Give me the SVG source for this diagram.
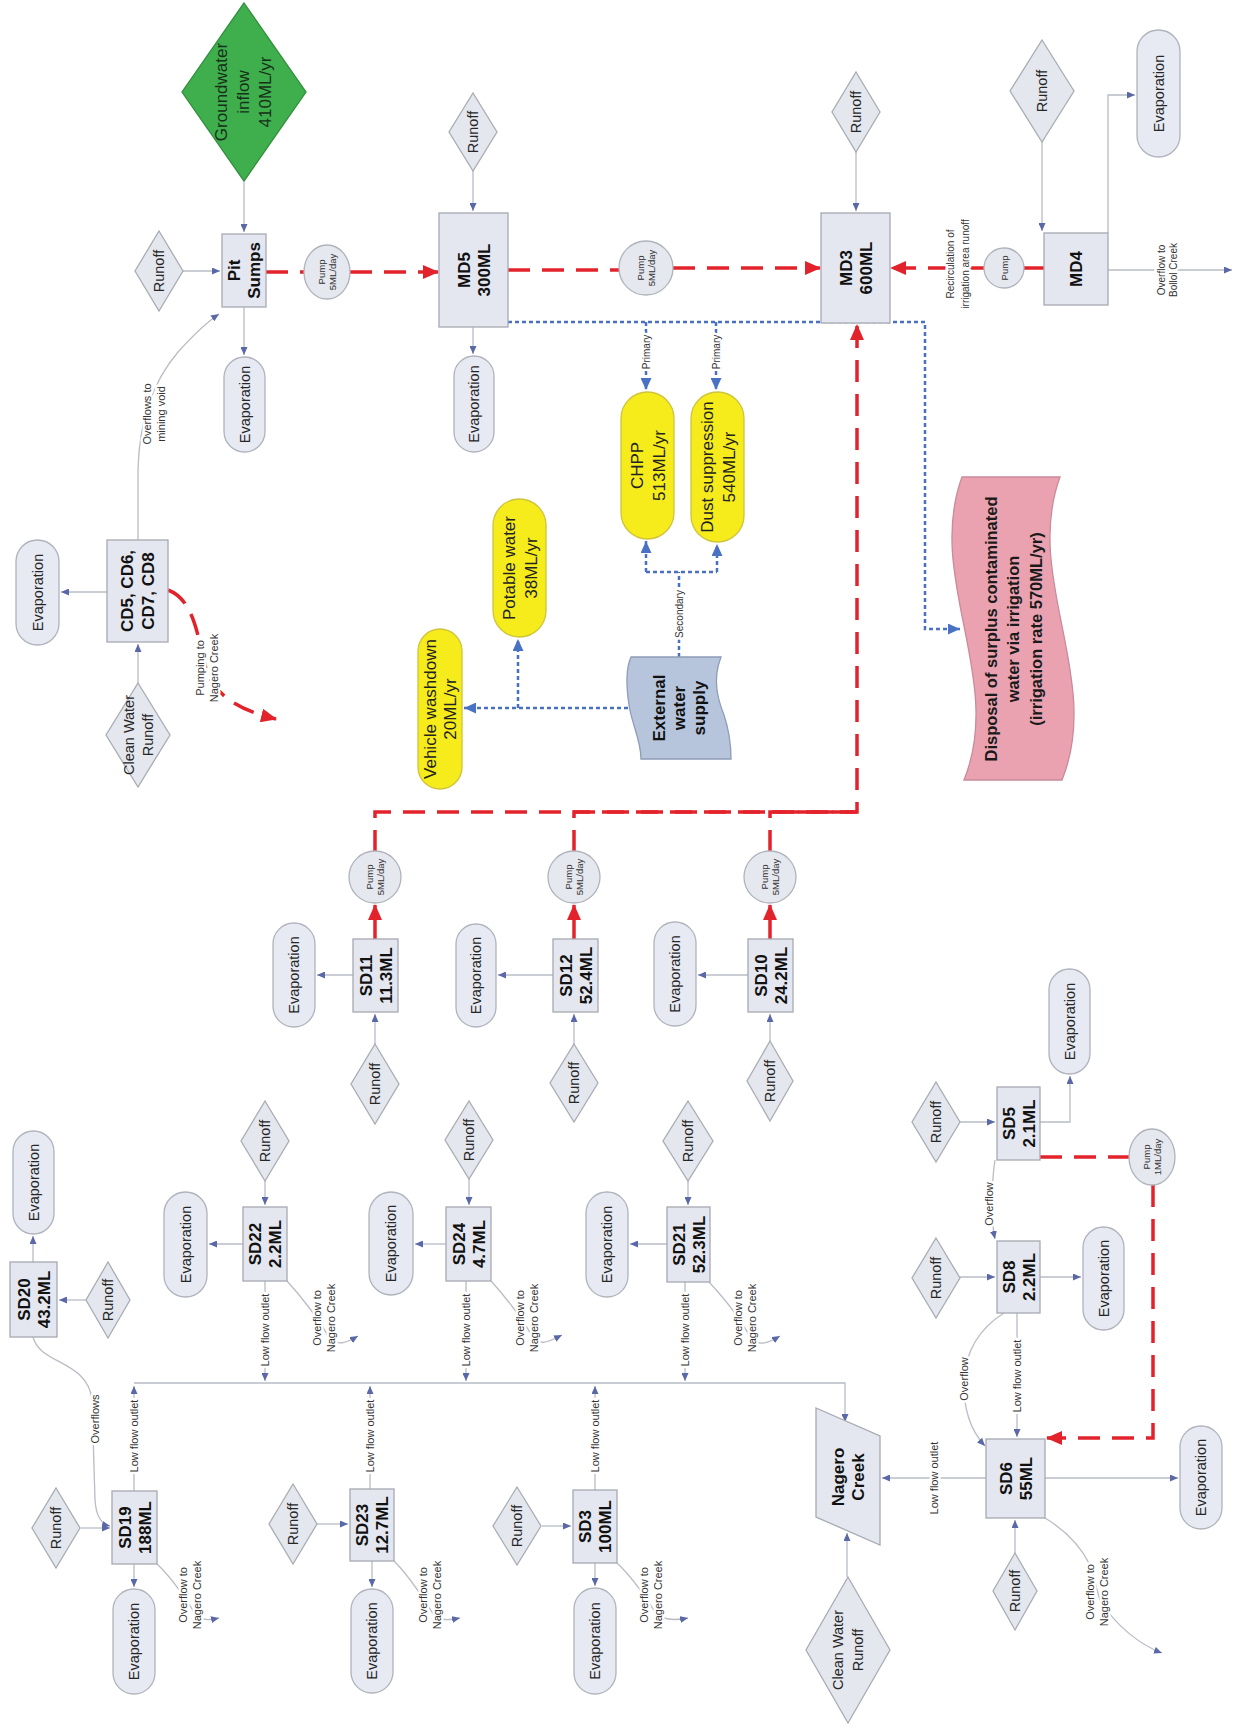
<svg xmlns="http://www.w3.org/2000/svg" width="1234" height="1728" viewBox="0 0 1234 1728">
<defs>
<style>
text{font-family:"Liberation Sans",Arial,sans-serif;fill:#262626;text-anchor:middle}
.n{font-size:14.5px}
.b{font-size:17px;font-weight:bold;fill:#111}
.g{font-size:17px;fill:#17301a}
.y{font-size:17px;fill:#222}
.d{font-size:16.5px;font-weight:bold;fill:#1a1a1a}
.l{font-size:11px;fill:#333;stroke:#fff;stroke-width:5;paint-order:stroke;stroke-linejoin:round}
.s{font-size:10px;fill:#333;stroke:#fff;stroke-width:5;paint-order:stroke;stroke-linejoin:round}
.p{font-size:9.5px;fill:#333}
.box{fill:#e4e7ef;stroke:#a6a9b2;stroke-width:1.3}
.dia{fill:#e4e7ee;stroke:#aaacb4;stroke-width:1.3}
.ev{fill:#e7eaf2;stroke:#b0b3bc;stroke-width:1.3}
.pump{fill:#e6e8ef;stroke:#b0b3bc;stroke-width:1.3}
.yl{fill:#f6ec1c;stroke:#cfc43a;stroke-width:1.3}
.c{fill:none;stroke:#b9bcc6;stroke-width:1.3;marker-end:url(#ag)}
.cn{fill:none;stroke:#b9bcc6;stroke-width:1.3}
.rd{fill:none;stroke:#e3232c;stroke-width:3.5;stroke-dasharray:22 12}
.rs{fill:none;stroke:#e3232c;stroke-width:3.5}
.bd{fill:none;stroke:#4a70c0;stroke-width:2.5;stroke-dasharray:4 3}
</style>
<marker id="ag" markerUnits="userSpaceOnUse" markerWidth="8" markerHeight="7" refX="8" refY="3.5" orient="auto"><path d="M0,0 L8,3.5 L0,7 z" fill="#5a68a8"/></marker>
<marker id="ar" markerUnits="userSpaceOnUse" markerWidth="16" markerHeight="14" refX="15" refY="7" orient="auto"><path d="M0,0 L16,7 L0,14 z" fill="#e3232c"/></marker>
<marker id="ab" markerUnits="userSpaceOnUse" markerWidth="12" markerHeight="11" refX="12" refY="5.5" orient="auto"><path d="M0,0 L12,5.5 L0,11 z" fill="#4a72c4"/></marker>
</defs>
<rect width="1234" height="1728" fill="#fff"/>

<g id="connectors">
<!-- gray flows -->
<path class="c" d="M244,182 V232"/>
<path class="c" d="M183,271 H220"/>
<path class="c" d="M244,307 V355"/>
<path class="c" d="M138,540 V470 C139,425 150,385 178,352 C198,330 210,320 219,314"/>
<path class="c" d="M473,171 V211"/>
<path class="c" d="M473,327 V354"/>
<path class="c" d="M856,152 V211"/>
<path class="c" d="M1042,142 V231"/>
<path class="c" d="M1108,233 V95 H1135"/>
<path class="c" d="M1108,270 H1232"/>
<path class="c" d="M107,592 H61"/>
<path class="c" d="M138,683 V644"/>
<path class="c" d="M375,1044 V1014"/>
<path class="c" d="M353,975 H317"/>
<path class="c" d="M574,1044 V1014"/>
<path class="c" d="M553,975 H498"/>
<path class="c" d="M770,1041 V1014"/>
<path class="c" d="M748,975 H698"/>
<path class="c" d="M265,1181 V1205"/>
<path class="c" d="M243,1244 H209"/>
<path class="c" d="M265,1281 V1381"/>
<path class="c" d="M287,1281 C300,1295 318,1318 328,1336 C336,1348 348,1342 358,1336"/>
<path class="c" d="M469,1179 V1205"/>
<path class="c" d="M446,1244 H415"/>
<path class="c" d="M466,1281 V1381"/>
<path class="c" d="M491,1281 C504,1295 522,1318 532,1336 C540,1348 552,1340 562,1335"/>
<path class="c" d="M688,1181 V1205"/>
<path class="c" d="M667,1244 H630"/>
<path class="c" d="M685,1282 V1381"/>
<path class="c" d="M709,1282 C722,1296 740,1318 750,1337 C758,1348 770,1342 780,1336"/>
<path class="c" d="M33,1262 V1236"/>
<path class="c" d="M86,1300 H59"/>
<path class="c" d="M33,1337 C40,1365 88,1360 92,1400 L95,1500 C96,1515 100,1524 110,1526"/>
<path class="c" d="M81,1528 H110"/>
<path class="c" d="M134,1564 V1587"/>
<path class="c" d="M134,1491 V1386"/>
<path class="c" d="M157,1564 C172,1578 184,1596 194,1612 C202,1622 210,1620 219,1618"/>
<path class="c" d="M317,1524 H348"/>
<path class="c" d="M372,1561 V1587"/>
<path class="c" d="M370,1489 V1386"/>
<path class="c" d="M394,1561 C410,1577 422,1596 432,1612 C440,1622 450,1620 460,1618"/>
<path class="c" d="M542,1526 H571"/>
<path class="c" d="M595,1563 V1586"/>
<path class="c" d="M595,1490 V1386"/>
<path class="c" d="M617,1563 C633,1578 645,1596 655,1612 C663,1622 678,1620 688,1618"/>
<path class="c" d="M134,1383 H845 V1422"/>
<path class="c" d="M960,1122 H995"/>
<path class="c" d="M1040,1122 H1070 V1076"/>
<path class="c" d="M960,1277 H995"/>
<path class="c" d="M1040,1277 H1081"/>
<path class="c" d="M995,1160 C992,1180 990,1215 995,1239"/>
<path class="c" d="M1017,1313 V1437"/>
<path class="c" d="M1004,1313 C985,1325 966,1345 964,1380 C963,1410 972,1432 985,1446"/>
<path class="c" d="M1015,1553 V1520"/>
<path class="c" d="M1045,1478 H1178"/>
<path class="c" d="M986,1478 H882"/>
<path class="c" d="M1045,1518 C1065,1530 1080,1545 1090,1565 L1100,1600 C1115,1625 1140,1645 1162,1653"/>
<path class="c" d="M847,1577 V1533"/>

<!-- blue dotted external / primary -->
<path class="bd" d="M508,322 H925 V629 H960" marker-end="url(#ab)"/>
<path class="bd" d="M646,322 V390" marker-end="url(#ab)"/>
<path class="bd" d="M716,322 V390" marker-end="url(#ab)"/>
<path class="bd" d="M628,708 H464" marker-end="url(#ab)"/>
<path class="bd" d="M518,708 V639" marker-end="url(#ab)"/>
<path class="bd" d="M679,657 V572 M646,572 H717"/>
<path class="bd" d="M646,572 V541" marker-end="url(#ab)"/>
<path class="bd" d="M717,572 V544" marker-end="url(#ab)"/>

<!-- red pumping -->
<path class="rd" d="M266,272 H304"/>
<path class="rd" d="M350,272 H438" marker-end="url(#ar)"/>
<path class="rd" d="M508,270 H619"/>
<path class="rd" d="M673,268 H820" marker-end="url(#ar)"/>
<path class="rs" d="M1044,268 H1024"/>
<path class="rd" d="M984,268 H891" marker-end="url(#ar)"/>
<path class="rd" d="M770,852 V812 H857"/>
<path class="rd" d="M574,852 V812 H857"/>
<path class="rd" d="M375,852 V812 H857 V325" marker-end="url(#ar)"/>
<path class="rs" d="M375,939 V905" marker-end="url(#ar)"/>
<path class="rs" d="M574,939 V905" marker-end="url(#ar)"/>
<path class="rs" d="M770,939 V905" marker-end="url(#ar)"/>
<path class="rd" d="M168,590 C195,600 198,640 205,665 C212,690 230,708 276,719" marker-end="url(#ar)"/>
<path class="rd" d="M1040,1157 H1129"/>
<path class="rd" d="M1153,1185 V1438 H1047" marker-end="url(#ar)"/>

<!-- connector labels -->
<text class="l" transform="translate(154 414) rotate(-90)"><tspan x="0" y="-3">Overflows to</tspan><tspan x="0" y="11">mining void</tspan></text>
<text class="l" transform="translate(207 668) rotate(-90)"><tspan x="0" y="-3">Pumping to</tspan><tspan x="0" y="11">Nagero Creek</tspan></text>
<text class="s" transform="translate(958 264) rotate(-90)"><tspan x="0" y="-4">Recirculation of</tspan><tspan x="0" y="11">irrigation area runoff</tspan></text>
<text class="s" transform="translate(1167 270) rotate(-90)"><tspan x="0" y="-2.5">Overflow to</tspan><tspan x="0" y="9.5">Bollol Creek</tspan></text>
<text class="s" transform="translate(646 352) rotate(-90)" y="3.5">Primary</text>
<text class="s" transform="translate(716 352) rotate(-90)" y="3.5">Primary</text>
<text class="s" transform="translate(679 614) rotate(-90)" y="3.5">Secondary</text>
<text class="l" transform="translate(265 1330) rotate(-90)" y="4">Low flow outlet</text>
<text class="l" transform="translate(466 1330) rotate(-90)" y="4">Low flow outlet</text>
<text class="l" transform="translate(685 1330) rotate(-90)" y="4">Low flow outlet</text>
<text class="l" transform="translate(134 1436) rotate(-90)" y="4">Low flow outlet</text>
<text class="l" transform="translate(370 1436) rotate(-90)" y="4">Low flow outlet</text>
<text class="l" transform="translate(595 1436) rotate(-90)" y="4">Low flow outlet</text>
<text class="l" transform="translate(1017 1376) rotate(-90)" y="4">Low flow outlet</text>
<text class="l" transform="translate(934 1478) rotate(-90)" y="4">Low flow outlet</text>
<text class="l" transform="translate(324 1318) rotate(-90)"><tspan x="0" y="-3">Overflow to</tspan><tspan x="0" y="11">Nagero Creek</tspan></text>
<text class="l" transform="translate(527 1318) rotate(-90)"><tspan x="0" y="-3">Overflow to</tspan><tspan x="0" y="11">Nagero Creek</tspan></text>
<text class="l" transform="translate(745 1318) rotate(-90)"><tspan x="0" y="-3">Overflow to</tspan><tspan x="0" y="11">Nagero Creek</tspan></text>
<text class="l" transform="translate(190 1595) rotate(-90)"><tspan x="0" y="-3">Overflow to</tspan><tspan x="0" y="11">Nagero Creek</tspan></text>
<text class="l" transform="translate(430 1595) rotate(-90)"><tspan x="0" y="-3">Overflow to</tspan><tspan x="0" y="11">Nagero Creek</tspan></text>
<text class="l" transform="translate(651 1595) rotate(-90)"><tspan x="0" y="-3">Overflow to</tspan><tspan x="0" y="11">Nagero Creek</tspan></text>
<text class="l" transform="translate(1097 1592) rotate(-90)"><tspan x="0" y="-3">Overflow to</tspan><tspan x="0" y="11">Nagero Creek</tspan></text>
<text class="l" transform="translate(95 1419) rotate(-90)" y="4">Overflows</text>
<text class="l" transform="translate(989 1204) rotate(-90)" y="4">Overflow</text>
<text class="l" transform="translate(964 1379) rotate(-90)" y="4">Overflow</text>
</g>

<!-- ===== Top area ===== -->
<g id="groundwater">
<polygon points="244,3 306,92 244,181 182,92" fill="#3fae4c" stroke="#2f8f3b" stroke-width="1.3"/>
<text class="g" transform="translate(243 92) rotate(-90)"><tspan x="0" y="-16">Groundwater</tspan><tspan x="0" y="6">inflow</tspan><tspan x="0" y="28">410ML/yr</tspan></text>
</g>
<g id="runoff-pit"><polygon class="dia" points="159,231 183,271 159,311 135,271"/><text class="n" transform="translate(159 271) rotate(-90)" y="5">Runoff</text></g>
<g id="pit-sumps"><rect class="box" x="222" y="234" width="44" height="73"/><text class="b" transform="translate(244 270.5) rotate(-90)"><tspan x="0" y="-4">Pit</tspan><tspan x="0" y="16">Sumps</tspan></text></g>
<g id="evap-pit"><rect class="ev" x="224" y="357" width="41" height="95" rx="20.5"/><text class="n" transform="translate(244.5 404.5) rotate(-90)" y="5">Evaporation</text></g>
<g id="pump1"><ellipse class="pump" cx="327" cy="272" rx="23" ry="27"/><text class="p" transform="translate(327 272) rotate(-90)"><tspan x="0" y="-2">Pump</tspan><tspan x="0" y="9">5ML/day</tspan></text></g>

<g id="runoff-md5"><polygon class="dia" points="473,93 497,132 473,171 449,132"/><text class="n" transform="translate(473 132) rotate(-90)" y="5">Runoff</text></g>
<g id="md5"><rect class="box" x="439" y="213" width="69" height="114"/><text class="b" transform="translate(473.5 270) rotate(-90)"><tspan x="0" y="-4">MD5</tspan><tspan x="0" y="16">300ML</tspan></text></g>
<g id="evap-md5"><rect class="ev" x="454" y="356" width="40" height="96" rx="20"/><text class="n" transform="translate(474 404) rotate(-90)" y="5">Evaporation</text></g>
<g id="pump2"><ellipse class="pump" cx="646" cy="268" rx="27" ry="27"/><text class="p" transform="translate(646 268) rotate(-90)"><tspan x="0" y="-2">Pump</tspan><tspan x="0" y="9">5ML/day</tspan></text></g>

<g id="runoff-md3"><polygon class="dia" points="856,72 880,112 856,152 832,112"/><text class="n" transform="translate(856 112) rotate(-90)" y="5">Runoff</text></g>
<g id="md3"><rect class="box" x="821" y="213" width="69" height="110"/><text class="b" transform="translate(855.5 268) rotate(-90)"><tspan x="0" y="-4">MD3</tspan><tspan x="0" y="16">600ML</tspan></text></g>
<g id="pump3"><circle class="pump" cx="1004" cy="268" r="20"/><text class="p" transform="translate(1004 268) rotate(-90)" y="3.5">Pump</text></g>
<g id="runoff-md4"><polygon class="dia" points="1042,40 1074,91 1042,142 1010,91"/><text class="n" transform="translate(1042 91) rotate(-90)" y="5">Runoff</text></g>
<g id="md4"><rect class="box" x="1044" y="233" width="64" height="72"/><text class="b" transform="translate(1076 269) rotate(-90)" y="6">MD4</text></g>
<g id="evap-md4"><rect class="ev" x="1137" y="30" width="43" height="127" rx="21.5"/><text class="n" transform="translate(1158.5 93.5) rotate(-90)" y="5">Evaporation</text></g>

<g id="cd5"><rect class="box" x="107" y="540" width="61" height="102"/><text class="b" transform="translate(137.5 591) rotate(-90)"><tspan x="0" y="-4.5">CD5, CD6,</tspan><tspan x="0" y="16.5">CD7, CD8</tspan></text></g>
<g id="evap-cd5"><rect class="ev" x="16" y="540" width="43" height="105" rx="21.5"/><text class="n" transform="translate(37.5 592.5) rotate(-90)" y="5">Evaporation</text></g>
<g id="clean-runoff-cd"><polygon class="dia" points="138,683 170,735 138,787 106,735"/><text class="n" transform="translate(138 735) rotate(-90)"><tspan x="0" y="-4.5">Clean Water</tspan><tspan x="0" y="14.5">Runoff</tspan></text></g>

<g id="chpp"><rect class="yl" x="621" y="392" width="53" height="147" rx="26.5"/><text class="y" transform="translate(647.5 465.5) rotate(-90)"><tspan x="0" y="-5">CHPP</tspan><tspan x="0" y="17">513ML/yr</tspan></text></g>
<g id="dust"><rect class="yl" x="691" y="392" width="53" height="150" rx="26.5"/><text class="y" transform="translate(717.5 467) rotate(-90)"><tspan x="0" y="-5">Dust suppression</tspan><tspan x="0" y="17">540ML/yr</tspan></text></g>
<g id="potable"><rect class="yl" x="493" y="499" width="53" height="138" rx="26.5"/><text class="y" transform="translate(519.5 568) rotate(-90)"><tspan x="0" y="-5">Potable water</tspan><tspan x="0" y="17">38ML/yr</tspan></text></g>
<g id="vehicle"><rect class="yl" x="418" y="629" width="44" height="160" rx="22"/><text class="y" transform="translate(440 709) rotate(-90)"><tspan x="0" y="-4">Vehicle washdown</tspan><tspan x="0" y="16">20ML/yr</tspan></text></g>
<g id="external"><path d="M631,657 L721,657 C712,680 718,700 724,715 C729,730 731,745 731,759 L641,759 C641,740 632,725 629,705 C626,685 626,668 631,657 Z" fill="#b7c5dc" stroke="#8e9cb8" stroke-width="1.3"/><text class="b" transform="translate(679 708) rotate(-90)"><tspan x="0" y="-14">External</tspan><tspan x="0" y="6">water</tspan><tspan x="0" y="26">supply</tspan></text></g>
<g id="disposal"><path d="M962,477 L1060,477 C1023,578 1103,679 1062,780 L964,780 C1005,679 925,578 962,477 Z" fill="#eaa2b1" stroke="#c98b99" stroke-width="1.3"/><text class="d" transform="translate(1013 629) rotate(-90)"><tspan x="0" y="-16.5">Disposal of surplus contaminated</tspan><tspan x="0" y="6">water via irrigation</tspan><tspan x="0" y="28.5">(irrigation rate 570ML/yr)</tspan></text></g>

<!-- SD11/12/10 -->
<g id="pump-sd11"><circle class="pump" cx="375" cy="877" r="26"/><text class="p" transform="translate(375 877) rotate(-90)"><tspan x="0" y="-2">Pump</tspan><tspan x="0" y="9">5ML/day</tspan></text></g>
<g id="sd11"><rect class="box" x="353" y="939" width="45" height="73"/><text class="b" transform="translate(375.5 975.5) rotate(-90)"><tspan x="0" y="-4">SD11</tspan><tspan x="0" y="16">11.3ML</tspan></text></g>
<g id="evap-sd11"><rect class="ev" x="273" y="923" width="42" height="104" rx="21"/><text class="n" transform="translate(294 975) rotate(-90)" y="5">Evaporation</text></g>
<g id="runoff-sd11"><polygon class="dia" points="375,1044 399,1084 375,1124 351,1084"/><text class="n" transform="translate(375 1084) rotate(-90)" y="5">Runoff</text></g>

<g id="pump-sd12"><circle class="pump" cx="574" cy="877" r="26"/><text class="p" transform="translate(574 877) rotate(-90)"><tspan x="0" y="-2">Pump</tspan><tspan x="0" y="9">5ML/day</tspan></text></g>
<g id="sd12"><rect class="box" x="553" y="939" width="45" height="73"/><text class="b" transform="translate(575.5 975.5) rotate(-90)"><tspan x="0" y="-4">SD12</tspan><tspan x="0" y="16">52.4ML</tspan></text></g>
<g id="evap-sd12"><rect class="ev" x="456" y="924" width="40" height="103" rx="20"/><text class="n" transform="translate(476 975.5) rotate(-90)" y="5">Evaporation</text></g>
<g id="runoff-sd12"><polygon class="dia" points="574,1044 598,1083 574,1122 550,1083"/><text class="n" transform="translate(574 1083) rotate(-90)" y="5">Runoff</text></g>

<g id="pump-sd10"><circle class="pump" cx="770" cy="877" r="26"/><text class="p" transform="translate(770 877) rotate(-90)"><tspan x="0" y="-2">Pump</tspan><tspan x="0" y="9">5ML/day</tspan></text></g>
<g id="sd10"><rect class="box" x="748" y="939" width="45" height="73"/><text class="b" transform="translate(770.5 975.5) rotate(-90)"><tspan x="0" y="-4">SD10</tspan><tspan x="0" y="16">24.2ML</tspan></text></g>
<g id="evap-sd10"><rect class="ev" x="654" y="922" width="42" height="104" rx="21"/><text class="n" transform="translate(675 974) rotate(-90)" y="5">Evaporation</text></g>
<g id="runoff-sd10"><polygon class="dia" points="770,1041 793,1081 770,1121 747,1081"/><text class="n" transform="translate(770 1081) rotate(-90)" y="5">Runoff</text></g>

<!-- SD22/24/21 -->
<g id="runoff-sd22"><polygon class="dia" points="265,1101 289,1141 265,1181 241,1141"/><text class="n" transform="translate(265 1141) rotate(-90)" y="5">Runoff</text></g>
<g id="sd22"><rect class="box" x="243" y="1207" width="44" height="74"/><text class="b" transform="translate(265 1244) rotate(-90)"><tspan x="0" y="-4">SD22</tspan><tspan x="0" y="16">2.2ML</tspan></text></g>
<g id="evap-sd22"><rect class="ev" x="164" y="1192" width="43" height="105" rx="21.5"/><text class="n" transform="translate(185.5 1244.5) rotate(-90)" y="5">Evaporation</text></g>

<g id="runoff-sd24"><polygon class="dia" points="469,1101 493,1140 469,1179 445,1140"/><text class="n" transform="translate(469 1140) rotate(-90)" y="5">Runoff</text></g>
<g id="sd24"><rect class="box" x="446" y="1207" width="45" height="74"/><text class="b" transform="translate(468.5 1244) rotate(-90)"><tspan x="0" y="-4">SD24</tspan><tspan x="0" y="16">4.7ML</tspan></text></g>
<g id="evap-sd24"><rect class="ev" x="369" y="1192" width="44" height="103" rx="22"/><text class="n" transform="translate(391 1243.5) rotate(-90)" y="5">Evaporation</text></g>

<g id="runoff-sd21"><polygon class="dia" points="688,1101 713,1141 688,1181 663,1141"/><text class="n" transform="translate(688 1141) rotate(-90)" y="5">Runoff</text></g>
<g id="sd21"><rect class="box" x="667" y="1207" width="43" height="75"/><text class="b" transform="translate(688.5 1244.5) rotate(-90)"><tspan x="0" y="-4">SD21</tspan><tspan x="0" y="16">52.3ML</tspan></text></g>
<g id="evap-sd21"><rect class="ev" x="586" y="1192" width="42" height="105" rx="21"/><text class="n" transform="translate(607 1244.5) rotate(-90)" y="5">Evaporation</text></g>

<!-- SD20 / SD19 / SD23 / SD3 -->
<g id="evap-sd20"><rect class="ev" x="13" y="1131" width="41" height="103" rx="20.5"/><text class="n" transform="translate(33.5 1182.5) rotate(-90)" y="5">Evaporation</text></g>
<g id="sd20"><rect class="box" x="10" y="1262" width="47" height="75"/><text class="b" transform="translate(33.5 1299.5) rotate(-90)"><tspan x="0" y="-4">SD20</tspan><tspan x="0" y="16">43.2ML</tspan></text></g>
<g id="runoff-sd20"><polygon class="dia" points="108,1262 130,1300 108,1338 86,1300"/><text class="n" transform="translate(108 1300) rotate(-90)" y="5">Runoff</text></g>

<g id="runoff-sd19"><polygon class="dia" points="56,1488 80,1528 56,1568 32,1528"/><text class="n" transform="translate(56 1528) rotate(-90)" y="5">Runoff</text></g>
<g id="sd19"><rect class="box" x="112" y="1491" width="45" height="73"/><text class="b" transform="translate(134.5 1527.5) rotate(-90)"><tspan x="0" y="-4">SD19</tspan><tspan x="0" y="16">188ML</tspan></text></g>
<g id="evap-sd19"><rect class="ev" x="113" y="1589" width="42" height="105" rx="21"/><text class="n" transform="translate(134 1641.5) rotate(-90)" y="5">Evaporation</text></g>

<g id="runoff-sd23"><polygon class="dia" points="293,1484 317,1524 293,1564 269,1524"/><text class="n" transform="translate(293 1524) rotate(-90)" y="5">Runoff</text></g>
<g id="sd23"><rect class="box" x="350" y="1489" width="44" height="72"/><text class="b" transform="translate(372 1525) rotate(-90)"><tspan x="0" y="-4">SD23</tspan><tspan x="0" y="16">12.7ML</tspan></text></g>
<g id="evap-sd23"><rect class="ev" x="351" y="1589" width="42" height="104" rx="21"/><text class="n" transform="translate(372 1641) rotate(-90)" y="5">Evaporation</text></g>

<g id="runoff-sd3"><polygon class="dia" points="517,1487 541,1526 517,1565 493,1526"/><text class="n" transform="translate(517 1526) rotate(-90)" y="5">Runoff</text></g>
<g id="sd3"><rect class="box" x="573" y="1490" width="44" height="73"/><text class="b" transform="translate(595 1526.5) rotate(-90)"><tspan x="0" y="-4">SD3</tspan><tspan x="0" y="16">100ML</tspan></text></g>
<g id="evap-sd3"><rect class="ev" x="574" y="1588" width="42" height="106" rx="21"/><text class="n" transform="translate(595 1641) rotate(-90)" y="5">Evaporation</text></g>

<!-- Nagero Creek -->
<g id="nagero"><polygon points="816,1408 880,1436 880,1545 816,1517" fill="#e4e7ef" stroke="#a6a9b2" stroke-width="1.3"/><text class="b" transform="translate(848 1477) rotate(-90)"><tspan x="0" y="-4">Nagero</tspan><tspan x="0" y="16">Creek</tspan></text></g>
<g id="clean-runoff-nagero"><polygon class="dia" points="848,1577 890,1650 848,1723 806,1650"/><text class="n" transform="translate(848 1650) rotate(-90)"><tspan x="0" y="-5">Clean Water</tspan><tspan x="0" y="15">Runoff</tspan></text></g>

<!-- SD5 / SD8 / SD6 -->
<g id="runoff-sd5"><polygon class="dia" points="936,1082 960,1122 936,1162 912,1122"/><text class="n" transform="translate(936 1122) rotate(-90)" y="5">Runoff</text></g>
<g id="sd5"><rect class="box" x="997" y="1087" width="43" height="73"/><text class="b" transform="translate(1018.5 1123.5) rotate(-90)"><tspan x="0" y="-4">SD5</tspan><tspan x="0" y="16">2.1ML</tspan></text></g>
<g id="evap-sd5"><rect class="ev" x="1049" y="969" width="41" height="105" rx="20.5"/><text class="n" transform="translate(1069.5 1021.5) rotate(-90)" y="5">Evaporation</text></g>
<g id="pump-sd5"><ellipse class="pump" cx="1152" cy="1157" rx="23" ry="28"/><text class="p" transform="translate(1152 1157) rotate(-90)"><tspan x="0" y="-2">Pump</tspan><tspan x="0" y="9">1ML/day</tspan></text></g>

<g id="runoff-sd8"><polygon class="dia" points="936,1238 960,1278 936,1318 912,1278"/><text class="n" transform="translate(936 1278) rotate(-90)" y="5">Runoff</text></g>
<g id="sd8"><rect class="box" x="997" y="1241" width="43" height="72"/><text class="b" transform="translate(1018.5 1277) rotate(-90)"><tspan x="0" y="-4">SD8</tspan><tspan x="0" y="16">2.2ML</tspan></text></g>
<g id="evap-sd8"><rect class="ev" x="1083" y="1227" width="41" height="103" rx="20.5"/><text class="n" transform="translate(1103.5 1278.5) rotate(-90)" y="5">Evaporation</text></g>

<g id="sd6"><rect class="box" x="986" y="1439" width="59" height="79"/><text class="b" transform="translate(1015.5 1478.5) rotate(-90)"><tspan x="0" y="-4">SD6</tspan><tspan x="0" y="16">55ML</tspan></text></g>
<g id="evap-sd6"><rect class="ev" x="1180" y="1426" width="42" height="103" rx="21"/><text class="n" transform="translate(1201 1477.5) rotate(-90)" y="5">Evaporation</text></g>
<g id="runoff-sd6"><polygon class="dia" points="1015,1553 1037,1591 1015,1630 993,1591"/><text class="n" transform="translate(1015 1591) rotate(-90)" y="5">Runoff</text></g>
</svg>
